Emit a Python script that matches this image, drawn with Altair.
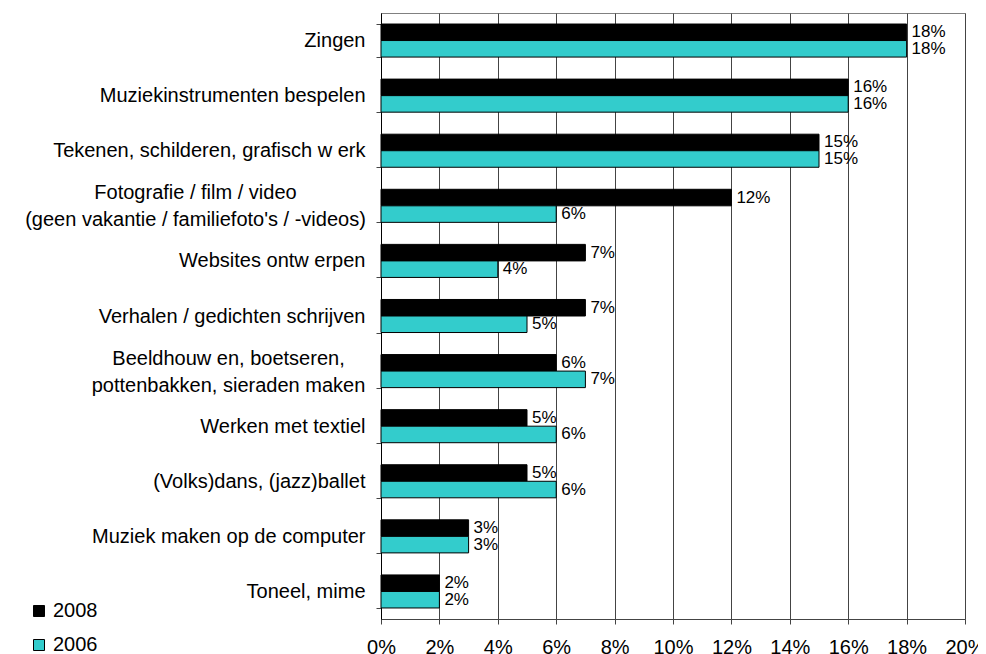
import altair as alt
import pandas as pd

categories = [
    "Zingen",
    "Muziekinstrumenten bespelen",
    "Tekenen, schilderen, grafisch w erk",
    "Fotografie / film / video|(geen vakantie / familiefoto's / -videos)",
    "Websites ontw erpen",
    "Verhalen / gedichten schrijven",
    "Beeldhouw en, boetseren,|pottenbakken, sieraden maken",
    "Werken met textiel",
    "(Volks)dans, (jazz)ballet",
    "Muziek maken op de computer",
    "Toneel, mime",
]
values_2008 = [18, 16, 15, 12, 7, 7, 6, 5, 5, 3, 2]
values_2006 = [18, 16, 15, 6, 4, 5, 7, 6, 6, 3, 2]
series = ["2008", "2006"]
colors = ["#000000", "#33CCCC"]
x_ticks = [0, 2, 4, 6, 8, 10, 12, 14, 16, 18, 20]

rows = []
for c, v8, v6 in zip(categories, values_2008, values_2006):
    rows.append({"category": c, "series": "2008", "value": v8, "label": f"{v8}%"})
    rows.append({"category": c, "series": "2006", "value": v6, "label": f"{v6}%"})
df = pd.DataFrame(rows)

FONT = "Liberation Sans, Arial"
MULTI = "indexof(datum.label, '|') >= 0"

base = alt.Chart(df).encode(
    y=alt.Y(
        "category:N",
        sort=categories,
        scale=alt.Scale(paddingInner=0.4, paddingOuter=0.2),
        axis=alt.Axis(
            title=None,
            labelExpr="split(datum.label, '|')",
            labelOffset={"condition": {"test": MULTI, "value": -13}, "value": 0},
            labelAlign={"condition": {"test": MULTI, "value": "center"}, "value": "right"},
            labelPadding={
                "expr": MULTI + " ? (indexof(datum.label, 'Foto') >= 0 ? 181 : 148) : 11"
            },
            tickBand="extent",
            labelFont=FONT,
            labelFontSize=20,
            labelColor="#000000",
            labelLineHeight=27,
            labelLimit=400,
            labelOverlap=False,
            tickSize=5,
            tickColor="#444444",
            domainColor="#000000",
            grid=False,
        ),
    ),
    yOffset=alt.YOffset("series:N", sort=series, scale=alt.Scale(paddingInner=0, paddingOuter=0)),
    x=alt.X(
        "value:Q",
        scale=alt.Scale(domain=[0, 20], nice=False),
        axis=alt.Axis(
            title=None,
            values=x_ticks,
            labelExpr="datum.value + '%'",
            labelFont=FONT,
            labelFontSize=20,
            labelColor="#000000",
            labelPadding=13,
            labelOverlap=False,
            labelFlush=False,
            tickSize=5,
            tickColor="#444444",
            domainColor="#444444",
            grid=True,
            gridColor="#444444",
            gridOpacity=1,
            gridWidth=1,
        ),
    ),
)

bars = base.mark_bar(stroke="#000000", strokeWidth=1).encode(
    color=alt.Color(
        "series:N",
        sort=series,
        scale=alt.Scale(domain=series, range=colors),
        legend=alt.Legend(
            title=None,
            orient="none",
            legendX=-352,
            legendY=588,
            symbolType="square",
            symbolSize=121,
            symbolStrokeColor="#000000",
            symbolStrokeWidth=1,
            labelFont=FONT,
            labelFontSize=20,
            labelColor="#000000",
            labelOffset=4,
            rowPadding=14,
            padding=0,
        ),
    )
)

text = base.mark_text(
    align="left", baseline="middle", dx=5, fontSize=17, font=FONT, color="#000000"
).encode(text=alt.Text("label:N"))

chart = (
    alt.layer(bars, text)
    .properties(
        width=584,
        height=606,
        autosize=alt.AutoSizeParams(type="none"),
        padding={"left": 373, "top": 5, "right": 13, "bottom": 35},
    )
    .configure_view(stroke="#808080", strokeWidth=1)
)

chart.save("out.html", embed_options={"renderer": "svg", "actions": False})
